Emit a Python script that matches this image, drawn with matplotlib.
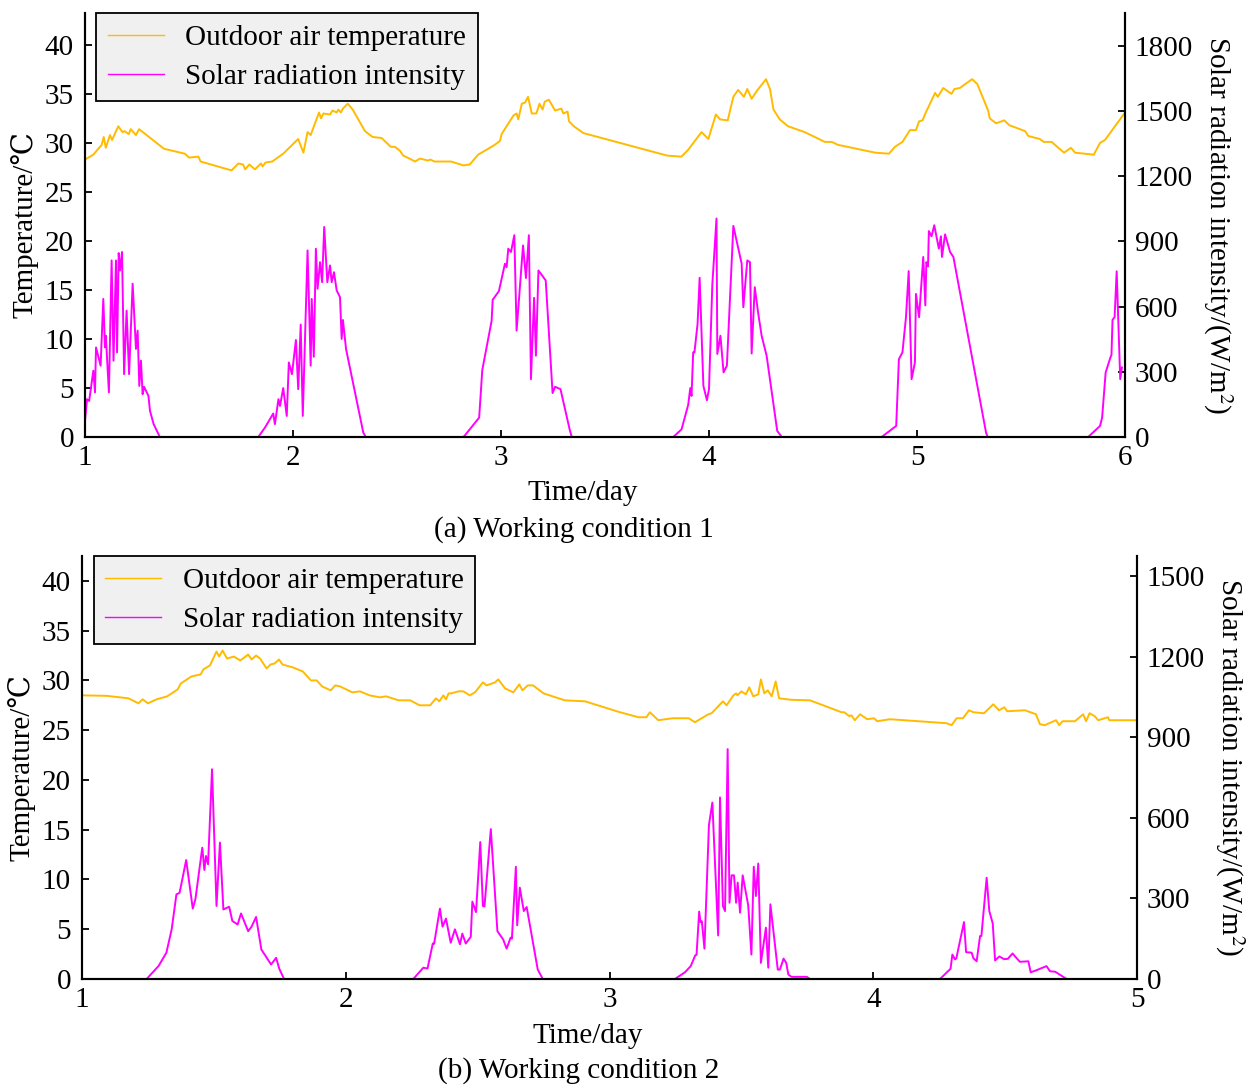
import matplotlib
matplotlib.use("Agg")
import matplotlib.pyplot as plt

# ---- working condition 1 ----
temp1_day = [1.00, 1.04, 1.08, 1.09, 1.10, 1.12, 1.13, 1.16, 1.18, 1.19, 1.21, 1.22, 1.245, 1.26,
             1.38, 1.48, 1.50, 1.545, 1.556, 1.67, 1.705, 1.737, 1.76, 1.77, 1.79, 1.817, 1.846,
             1.854, 1.868, 1.90, 1.953, 2.025, 2.05, 2.07, 2.085, 2.125, 2.135, 2.146, 2.178, 2.19,
             2.21, 2.218, 2.23, 2.24, 2.263, 2.287, 2.346, 2.383, 2.426, 2.47, 2.49, 2.514, 2.53,
             2.56, 2.587, 2.61, 2.65, 2.66, 2.68, 2.76, 2.82, 2.85, 2.89, 2.97, 2.995, 3.003, 3.06,
             3.075, 3.083, 3.10, 3.115, 3.13, 3.148, 3.17, 3.185, 3.20, 3.21, 3.23, 3.26, 3.29, 3.30,
             3.32, 3.327, 3.35, 3.396, 3.80, 3.868, 3.90, 3.964, 3.997, 4.033, 4.053, 4.09, 4.117,
             4.14, 4.168, 4.184, 4.205, 4.23, 4.274, 4.293, 4.31, 4.34, 4.38, 4.46, 4.557, 4.59, 4.62,
             4.80, 4.865, 4.894, 4.93, 4.966, 4.995, 5.01, 5.027, 5.038, 5.087, 5.10, 5.126, 5.166,
             5.18, 5.206, 5.265, 5.29, 5.342, 5.35, 5.38, 5.42, 5.444, 5.52, 5.535, 5.59, 5.61, 5.647,
             5.707, 5.74, 5.76, 5.85, 5.88, 5.904, 6.00]
temp1_val = [28.3, 28.8, 29.8, 30.6, 29.5, 30.8, 30.3, 31.7, 31.1, 31.2, 30.9, 31.4, 30.8, 31.4,
             29.4, 28.9, 28.5, 28.6, 28.1, 27.4, 27.2, 27.9, 27.8, 27.3, 27.8, 27.3, 27.9,
             27.6, 28.0, 28.1, 28.9, 30.4, 29.0, 31.1, 30.8, 33.1, 32.5, 33.0, 32.9, 33.3,
             33.1, 33.4, 33.1, 33.5, 34.0, 33.4, 31.2, 30.6, 30.5, 29.6, 29.6, 29.2, 28.7,
             28.4, 28.1, 28.4, 28.2, 28.3, 28.1, 28.1, 27.7, 27.8, 28.8, 29.8, 30.2, 30.9, 32.8,
             33.0, 32.4, 34.0, 34.1, 34.7, 33.0, 33.0, 34.0, 33.4, 34.2, 34.4, 33.3, 33.5, 33.0,
             33.2, 32.2, 31.7, 31.0, 28.7, 28.6, 29.3, 31.1, 30.4, 32.9, 32.4, 32.3, 34.7,
             35.4, 34.7, 35.5, 34.5, 35.3, 36.5, 35.5, 33.4, 32.4, 31.7, 31.1, 30.1, 30.1, 29.8,
             29.0, 28.9, 29.6, 30.1, 31.3, 31.3, 32.2, 32.3, 32.9, 35.1, 34.7, 35.6, 35.0,
             35.5, 35.6, 36.5, 36.0, 33.3, 32.5, 32.0, 32.3, 31.8, 31.2, 30.7, 30.4, 30.1, 30.1,
             29.0, 29.5, 29.0, 28.8, 30.0, 30.3, 33.1]

sun1_day = [1.00, 1.01, 1.02, 1.04, 1.048, 1.053, 1.075, 1.088, 1.096, 1.10, 1.115, 1.128, 1.137,
            1.149, 1.154, 1.162, 1.168, 1.178, 1.188, 1.20, 1.212, 1.229, 1.245, 1.253, 1.261,
            1.269, 1.277, 1.284, 1.305, 1.3125, 1.33, 1.36, 1.833, 1.865, 1.905, 1.913, 1.93,
            1.9375, 1.953, 1.97, 1.98, 1.995, 2.014, 2.025, 2.037, 2.047, 2.07, 2.085, 2.09, 2.10,
            2.11, 2.118, 2.13, 2.14, 2.15, 2.165, 2.178, 2.186, 2.197, 2.21, 2.226, 2.234, 2.24,
            2.255, 2.338, 2.35, 2.82, 2.895, 2.91, 2.955, 2.96, 2.99, 3.019, 3.027, 3.035, 3.048,
            3.064, 3.075, 3.106, 3.12, 3.134, 3.144, 3.159, 3.168, 3.18, 3.215, 3.248, 3.26, 3.286,
            3.31, 3.33, 3.34, 3.828, 3.868, 3.90, 3.91, 3.916, 3.924, 3.93, 3.945, 3.955, 3.973,
            3.99, 4.0, 4.016, 4.036, 4.04, 4.055, 4.07, 4.086, 4.117, 4.157, 4.165, 4.184, 4.197,
            4.205, 4.22, 4.237, 4.253, 4.277, 4.328, 4.35, 4.83, 4.90, 4.913, 4.93, 4.947, 4.96,
            4.974, 4.99, 4.995, 5.01, 5.03, 5.04, 5.045, 5.053, 5.057, 5.07, 5.083, 5.105, 5.115,
            5.12, 5.135, 5.159, 5.175, 5.332, 5.34, 5.823, 5.88, 5.89, 5.907, 5.93, 5.935, 5.94,
            5.95, 5.96, 5.977, 5.985]
sun1_val = [74, 174, 166, 305, 205, 412, 328, 635, 412, 466, 205, 812, 351,
            812, 389, 846, 766, 851, 289, 581, 289, 705, 405, 489, 235,
            351, 197, 231, 189, 120, 59, 0, 0, 43, 108, 59, 174,
            143, 225, 97, 343, 289, 446, 220, 517, 97, 858, 328, 635, 369,
            866, 682, 804, 712, 966, 712, 789, 712, 758, 674, 643, 451, 538,
            405, 20, 0, 0, 89, 308, 535, 631, 671, 797, 781, 866, 851,
            928, 489, 881, 731, 928, 266, 640, 374, 766, 720, 202, 231, 220,
            120, 35, 0, 0, 35, 148, 225, 189, 389, 389, 520, 732, 235,
            169, 220, 701, 1005, 382, 466, 297, 328, 971, 797, 597, 812, 804,
            384, 689, 566, 466, 374, 28, 0, 0, 51, 358, 389, 551, 763,
            266, 343, 658, 551, 828, 605, 804, 785, 947, 923, 974, 866, 923,
            828, 932, 851, 828, 20, 0, 0, 51, 89, 297, 366, 378, 539,
            551, 762, 266, 320]

# ---- working condition 2 ----
temp2_day = [1.00, 1.094, 1.176, 1.214, 1.23, 1.25, 1.283, 1.323, 1.363, 1.375, 1.415, 1.45, 1.46,
             1.485, 1.51, 1.52, 1.533, 1.55, 1.576, 1.60, 1.63, 1.643, 1.66, 1.675, 1.70, 1.715,
             1.73, 1.747, 1.76, 1.80, 1.837, 1.868, 1.89, 1.91, 1.943, 1.96, 1.978, 2.025, 2.054,
             2.09, 2.13, 2.153, 2.20, 2.244, 2.28, 2.32, 2.342, 2.355, 2.37, 2.38, 2.39, 2.40,
             2.427, 2.446, 2.47, 2.49, 2.52, 2.534, 2.566, 2.578, 2.604, 2.635, 2.658, 2.67, 2.69,
             2.71, 2.75, 2.83, 2.907, 3.04, 3.11, 3.14, 3.153, 3.185, 3.24, 3.30, 3.324, 3.375,
             3.387, 3.43, 3.444, 3.47, 3.48, 3.485, 3.50, 3.517, 3.53, 3.545, 3.564, 3.574, 3.587,
             3.60, 3.615, 3.63, 3.643, 3.69, 3.76, 3.88, 3.89, 3.91, 3.917, 3.93, 3.95, 3.977,
             4.003, 4.015, 4.063, 4.278, 4.297, 4.316, 4.34, 4.363, 4.38, 4.42, 4.455, 4.477,
             4.497, 4.508, 4.575, 4.617, 4.632, 4.65, 4.693, 4.705, 4.718, 4.765, 4.796, 4.807,
             4.82, 4.84, 4.853, 4.89, 4.895, 5.00]
temp2_val = [28.5, 28.45, 28.2, 27.7, 28.1, 27.7, 28.1, 28.4, 29.1, 29.7, 30.4, 30.6, 31.1,
             31.5, 32.9, 32.4, 33.0, 32.2, 32.4, 32.0, 32.6, 32.1, 32.5, 32.2, 31.2, 31.6,
             31.7, 32.1, 31.6, 31.3, 30.9, 30.0, 30.0, 29.4, 29.0, 29.5, 29.4, 28.8, 28.9,
             28.5, 28.3, 28.4, 28.0, 28.0, 27.5, 27.5, 28.2, 27.9, 28.5, 28.1, 28.7, 28.7,
             28.9, 28.9, 28.5, 28.8, 29.8, 29.5, 29.8, 30.1, 29.2, 28.8, 29.6, 29.0, 29.5,
             29.5, 28.7, 28.0, 27.9, 26.8, 26.3, 26.3, 26.8, 26.0, 26.2, 26.2, 25.8, 26.6,
             26.7, 27.9, 27.5, 28.5, 28.7, 28.5, 28.9, 28.6, 29.3, 28.4, 28.6, 30.1, 28.7,
             29.0, 28.4, 29.9, 28.2, 28.05, 28.0, 26.8, 26.8, 26.4, 26.5, 26.0, 26.6, 26.1,
             26.2, 25.9, 26.1, 25.7, 25.5, 26.2, 26.2, 27.0, 26.8, 26.7, 27.6, 27.0,
             27.3, 26.9, 27.0, 26.6, 25.6, 25.5, 26.0, 25.5, 25.9, 25.9, 26.6, 25.9,
             26.7, 26.4, 26.0, 26.3, 26.0, 26.0]

sun2_day = [1.00, 1.245, 1.29, 1.32, 1.34, 1.358, 1.37, 1.395, 1.42, 1.43, 1.456, 1.464, 1.47,
            1.478, 1.493, 1.51, 1.523, 1.536, 1.558, 1.57, 1.59, 1.603, 1.63, 1.643, 1.66, 1.68,
            1.717, 1.736, 1.748, 1.766, 2.256, 2.294, 2.31, 2.33, 2.335, 2.357, 2.367, 2.38, 2.398,
            2.414, 2.433, 2.442, 2.455, 2.474, 2.48, 2.494, 2.51, 2.52, 2.526, 2.55, 2.575, 2.597,
            2.61, 2.625, 2.63, 2.645, 2.65, 2.66, 2.675, 2.686, 2.728, 2.747, 3.248, 3.286, 3.308,
            3.325, 3.33, 3.34, 3.345, 3.35, 3.36, 3.377, 3.39, 3.412, 3.419, 3.43, 3.438, 3.448,
            3.455, 3.463, 3.472, 3.48, 3.486, 3.495, 3.505, 3.526, 3.538, 3.547, 3.555, 3.564,
            3.574, 3.593, 3.602, 3.61, 3.638, 3.646, 3.66, 3.67, 3.678, 3.69, 3.748, 3.76, 4.253,
            4.293, 4.30, 4.31, 4.315, 4.344, 4.352, 4.373, 4.38, 4.392, 4.405, 4.41, 4.43, 4.44,
            4.453, 4.462, 4.478, 4.496, 4.51, 4.528, 4.556, 4.588, 4.597, 4.617, 4.657, 4.67,
            4.69, 4.733, 5.00]
sun2_val = [0, 0, 48, 98, 185, 315, 321, 443, 262, 297, 489, 406, 458,
            427, 781, 272, 508, 259, 269, 216, 203, 244, 178, 195, 231, 110,
            54, 79, 38, 0, 0, 42, 39, 132, 131, 262, 195, 225, 135,
            185, 129, 169, 132, 157, 288, 249, 510, 272, 270, 558, 178, 147,
            113, 154, 150, 418, 200, 340, 253, 268, 35, 0, 0, 25, 48,
            88, 90, 251, 212, 215, 113, 573, 657, 162, 676, 272, 253, 856,
            284, 386, 386, 284, 359, 247, 386, 274, 91, 418, 309, 430,
            60, 191, 42, 278, 35, 35, 76, 60, 17, 8, 8, 0, 0,
            38, 91, 73, 77, 212, 100, 98, 77, 66, 160, 160, 377, 253,
            207, 69, 84, 74, 75, 95, 64, 66, 25, 32, 48, 29,
            27, 0, 0]

TEMP_COLOR = "#FFBB00"
SUN_COLOR = "#FF00FF"
FS = 21

plt.rcParams["font.family"] = ["Liberation Serif", "DejaVu Serif"]
plt.rcParams["mathtext.fontset"] = "stix"
plt.rcParams["font.size"] = FS

W, H = 1255, 1086


def panel(fig, rect, tday, tval, sday, sval, xmax, tmax, smax, sticks, ylab_x, rlab_x):
    ax = fig.add_axes(rect)
    ax2 = ax.twinx()
    l1, = ax.plot(tday, tval, color=TEMP_COLOR, lw=1.4, label="Outdoor air temperature")
    l2, = ax2.plot(sday, sval, color=SUN_COLOR, lw=1.4, label="Solar radiation intensity")
    ax.set_xlim(1, xmax)
    ax.set_ylim(0, tmax)
    ax2.set_ylim(0, smax)
    ax.set_xticks(range(1, xmax + 1))
    ax.set_yticks(range(0, 41, 5))
    ax2.set_yticks(sticks)
    for a in (ax, ax2):
        a.spines["top"].set_visible(False)
        for s in ("left", "right", "bottom"):
            a.spines[s].set_linewidth(1.5)
        a.tick_params(direction="in", length=5, width=1.3, labelsize=FS)
    ax.tick_params(axis="y", pad=8)
    ax.tick_params(axis="x", pad=6)
    ax2.tick_params(axis="y", pad=7)
    # axis titles placed in figure pixels, as in the reference
    x0, y0, w, h = rect
    ymid = y0 + h / 2
    fig.text(ylab_x / W, ymid, "Temperature/\u2103", rotation=90, ha="center", va="center",
             fontsize=FS)
    fig.text(rlab_x / W, ymid, "Solar radiation intensity/(W/m$^2$)", rotation=-90,
             ha="center", va="center", fontsize=FS)
    leg = ax2.legend(handles=[l1, l2], loc="upper left", bbox_to_anchor=(0.011, 1.0),
                     borderaxespad=0, fancybox=False, framealpha=1, facecolor="#f0f0f0",
                     edgecolor="black", handlelength=1.9, handletextpad=0.75,
                     borderpad=0.4, labelspacing=0.42, fontsize=FS)
    leg.get_frame().set_linewidth(1.3)
    for hd in leg.get_lines():
        hd.set_linewidth(1.0)
    return ax, ax2


fig = plt.figure(figsize=(12.55, 10.86), dpi=100)

panel(fig, [85 / W, 1 - 437 / H, 1040 / W, 424 / H], temp1_day, temp1_val, sun1_day, sun1_val,
      6, 43.25, 1950, range(0, 1801, 300), 25, 1218)
panel(fig, [82 / W, 1 - 979 / H, 1055 / W, 423 / H], temp2_day, temp2_val, sun2_day, sun2_val,
      5, 42.5, 1575, range(0, 1501, 300), 22, 1230)

fig.text(583 / W, 1 - 493 / H, "Time/day", ha="center", va="center", fontsize=FS)
fig.text(574 / W, 1 - 530 / H, "(a) Working condition 1", ha="center", va="center", fontsize=FS)
fig.text(588 / W, 1 - 1036 / H, "Time/day", ha="center", va="center", fontsize=FS)
fig.text(579 / W, 1 - 1071 / H, "(b) Working condition 2", ha="center", va="center", fontsize=FS)

fig.savefig("out.png", dpi=100)
